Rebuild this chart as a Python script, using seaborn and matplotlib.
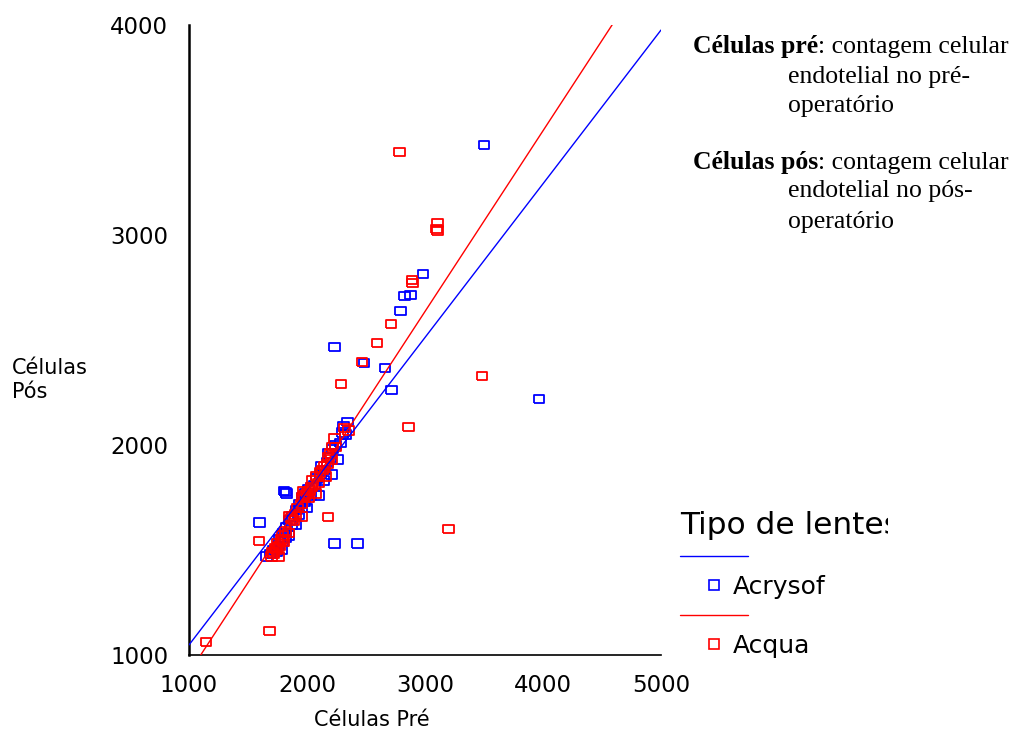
import numpy as np
import pandas as pd
import matplotlib
matplotlib.use("Agg")
import matplotlib.pyplot as plt
import seaborn as sns
from matplotlib.lines import Line2D
from matplotlib.transforms import Bbox

# ---------------- data ----------------
acrysof_pre = [1690, 1720, 1740, 1760, 1770, 1780, 1790, 1800, 1820, 1830, 1840, 1850,
               1870, 1880, 1900, 1910, 1930, 1940, 1950, 1960, 1980, 1990, 2000, 2010,
               2030, 2040, 2060, 2080, 2100, 2110, 2120, 2140, 2150, 2170, 2180, 2200,
               2210, 2220, 2240, 2260, 2280, 2300, 2310, 2340, 2330,
               1600, 1805, 1830, 1815, 2230, 2430, 2237, 2483, 2661, 2720, 3966, 3500,
               2983, 2830, 2881, 2790, 1660]
acrysof_pos = [1480, 1500, 1490, 1520, 1550, 1500, 1540, 1580, 1560, 1610, 1570, 1640,
               1620, 1660, 1620, 1690, 1670, 1720, 1700, 1750, 1730, 1770, 1700, 1790,
               1760, 1800, 1810, 1840, 1760, 1860, 1900, 1830, 1880, 1920, 1960, 1940,
               1860, 1980, 2000, 1930, 2010, 2060, 2090, 2110, 2050,
               1630, 1780, 1770, 1775, 1530, 1530, 2467, 2390, 2367, 2262, 2219, 3429,
               2814, 2710, 2714, 2638, 1470]

acqua_pre = [1700, 1710, 1720, 1730, 1740, 1750, 1760, 1770, 1780, 1790, 1800, 1820,
             1840, 1850, 1870, 1890, 1900, 1920, 1950, 1950, 1960, 1970, 1980, 2000,
             2010, 2020, 2040, 2050, 2070, 2080, 2100, 2110, 2130, 2150, 2170, 2180,
             2200, 2210, 2220, 2230, 2240, 2160, 2320, 2350,
             1144, 1686, 1593, 2178, 3203, 2864, 3483, 2288, 2466, 2593, 2712, 2890,
             2895, 3102, 3100, 3105, 2780]
acqua_pos = [1470, 1490, 1480, 1510, 1500, 1530, 1470, 1520, 1550, 1570, 1540, 1590,
             1580, 1660, 1650, 1640, 1670, 1700, 1660, 1720, 1750, 1780, 1760, 1770,
             1750, 1780, 1800, 1830, 1770, 1850, 1820, 1870, 1880, 1900, 1910, 1940,
             1960, 1930, 1990, 2030, 1990, 1850, 2080, 2070,
             1062, 1114, 1543, 1657, 1600, 2086, 2329, 2290, 2395, 2486, 2576, 2786,
             2771, 3057, 3029, 3022, 3395]

groups = ["Acrysof", "Acqua"]
group_colors = ["#0000ff", "#ff0000"]
# fitted regression lines (intercept, slope)
fit_intercepts = [316, 54]
fit_slopes = [0.732, 0.8606]

x_ticks = [1000, 2000, 3000, 4000, 5000]
y_ticks = [1000, 2000, 3000, 4000]

df = pd.DataFrame({
    "pre": acrysof_pre + acqua_pre,
    "pos": acrysof_pos + acqua_pos,
    "lente": ["Acrysof"] * len(acrysof_pre) + ["Acqua"] * len(acqua_pre),
})

# ---------------- figure ----------------
sns.set_theme(style="white")
plt.rcParams["font.family"] = ["DejaVu Sans"]
for k in ["text.color", "axes.labelcolor", "xtick.color", "ytick.color"]:
    plt.rcParams[k] = "black"

W, H = 1013, 732
fig = plt.figure(figsize=(W / 100, H / 100), dpi=100)
ax = fig.add_axes([189 / W, 1 - 655 / H, (661 - 189) / W, (655 - 25) / H])

square = [(-1.3, -1), (1.3, -1), (1.3, 1), (-1.3, 1), (-1.3, -1)]

for g, col in zip(groups, group_colors):
    sub = df[df["lente"] == g]
    sns.scatterplot(data=sub, x="pre", y="pos", ax=ax, marker=square, s=62,
                    facecolors="none", edgecolor=col, color=col, linewidth=1.3,
                    legend=False, zorder=3)

xs = np.array([x_ticks[0], x_ticks[-1]], dtype=float)
for b0, b1, col in zip(fit_intercepts, fit_slopes, group_colors):
    sns.lineplot(x=xs, y=b0 + b1 * xs, ax=ax, color=col, linewidth=1.0, zorder=4)

ax.set_xlim(x_ticks[0], x_ticks[-1])
ax.set_ylim(y_ticks[0], y_ticks[-1])
ax.set_xticks(x_ticks)
ax.set_yticks(y_ticks)
ax.tick_params(axis="both", direction="out", length=7, width=1, colors="black",
               labelsize=16.5)
ax.tick_params(axis="y", pad=8)
ax.tick_params(axis="x", pad=7)
ax.grid(False)
for side in ["top", "right"]:
    ax.spines[side].set_visible(False)
ax.spines["left"].set_linewidth(1.8)
ax.spines["bottom"].set_linewidth(1.2)
ax.spines["left"].set_color("black")
ax.spines["bottom"].set_color("black")

ax.set_xlabel("Células Pré", fontsize=15, va="center")
ax.xaxis.set_label_coords((372 - 189) / 472, (655 - 720) / 630)
ax.set_ylabel("Células\nPós", fontsize=15, rotation=0, ha="left", va="center",
              multialignment="left", linespacing=1.25)
ax.yaxis.set_label_coords((12 - 189) / 472, (655 - 380) / 630)

# ---------------- legend ----------------
handles, labels = [], []
for g, col in zip(groups, group_colors):
    handles.append(Line2D([], [], color=col, linewidth=1.0))
    labels.append("")
    handles.append(Line2D([], [], color=col, linestyle="none", marker="s",
                          markerfacecolor="none", markeredgecolor=col,
                          markersize=7.5, markeredgewidth=1.2))
    labels.append(g)

leg = ax.legend(handles, labels, title="Tipo de lentes", loc="upper left",
                bbox_to_anchor=(680 / W, 1 - 511 / H), bbox_transform=fig.transFigure,
                frameon=False, fontsize=18, title_fontsize=22.5, alignment="left",
                handlelength=2.7, handletextpad=-0.6, labelspacing=0.22,
                borderpad=0, borderaxespad=0)
title = leg.get_title()
title.set_clip_box(Bbox.from_extents(0, 0, 888, H))
title.set_clip_on(True)

# ---------------- notes ----------------
serif = "Liberation Serif"
fs = 18.5
notes = [
    ("Células pré", ": contagem celular", 53, ["endotelial no pré-", "operatório"], [83, 112]),
    ("Células pós", ": contagem celular", 169, ["endotelial no pós-", "operatório"], [197, 228]),
]
for bold, rest, base, lines, bases in notes:
    t = fig.text(693 / W, 1 - base / H, bold, fontsize=fs, family=serif,
                 fontweight="bold", ha="left", va="baseline")
    fig.canvas.draw()
    bb = t.get_window_extent()
    fig.text(bb.x1 / W, 1 - base / H, rest, fontsize=fs, family=serif,
             ha="left", va="baseline")
    for ln, b in zip(lines, bases):
        fig.text(788 / W, 1 - b / H, ln, fontsize=fs, family=serif,
                 ha="left", va="baseline")

fig.savefig("out.png", dpi=100)
